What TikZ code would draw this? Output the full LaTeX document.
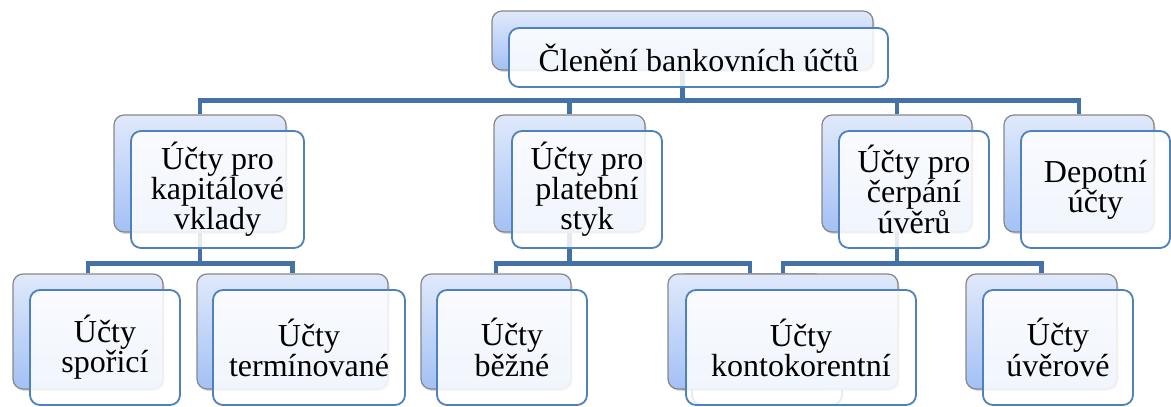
\documentclass[tikz,border=0pt]{standalone}
\usepackage{fontspec}
\setmainfont{Liberation Serif}
\usepackage{tikz}
\usetikzlibrary{shadows,backgrounds}
\definecolor{connblue}{RGB}{68,114,167}
\definecolor{frameblue}{RGB}{79,129,189}
\definecolor{shadetop}{RGB}{224,233,251}
\definecolor{shadebot}{RGB}{163,193,245}
\definecolor{backgray}{RGB}{135,135,135}
\tikzset{
  backbox/.style={draw=backgray, line width=1.2pt, rounded corners=10pt,
    top color=shadetop, bottom color=shadebot, inner sep=0pt,
    drop shadow={shadow xshift=1.5pt, shadow yshift=-2pt, opacity=0.3}},
  frontbox/.style={draw=frameblue, line width=1.8pt, rounded corners=10pt,
    fill=white, fill opacity=0.85, text opacity=1, align=center, inner sep=0pt,
    font=\rmfamily\fontsize{32}{28}\selectfont},
  conn/.style={draw=connblue, line width=4.5pt}
}

\begin{document}
\begin{tikzpicture}[x=1pt,y=-1pt]
        \useasboundingbox (0,0) rectangle (1171,407);
        % top
        \node[backbox, minimum width=381pt, minimum height=59pt] (root-b) at (682.5,40.5) {};
        \node[frontbox, minimum width=379pt, minimum height=59pt] (root) at (698.5,57.5) {Členění bankovních účtů};
        % second row
        \node[backbox, minimum width=172pt, minimum height=117pt] (kap-b) at (200,173.5) {};
        \node[frontbox, minimum width=173pt, minimum height=117pt] (kap) at (217.5,189.5) {Účty pro\\kapitálové\\vklady};
        \node[backbox, minimum width=151pt, minimum height=117pt] (pla-b) at (569.5,173.5) {};
        \node[frontbox, minimum width=150pt, minimum height=117pt] (pla) at (587,189.5) {Účty pro\\platební\\styk};
        \node[backbox, minimum width=150pt, minimum height=117pt] (cer-b) at (897,173.5) {};
        \node[frontbox, minimum width=150pt, minimum height=117pt] (cer) at (914,189.5) {Účty pro\\čerpání\\úvěrů};
        \node[backbox, minimum width=150pt, minimum height=117pt] (dep-b) at (1079,173.5) {};
        \node[frontbox, minimum width=149pt, minimum height=117pt] (dep) at (1095.5,189.5) {Depotní\\účty};
        % third row
        \node[backbox, minimum width=150pt, minimum height=115pt] (spo-b) at (88,331.5) {};
        \node[frontbox, minimum width=150pt, minimum height=115pt] (spo) at (105,347.5) {Účty\\spořicí};
        \node[backbox, minimum width=191pt, minimum height=115pt] (ter-b) at (292.5,331.5) {};
        \node[frontbox, minimum width=192pt, minimum height=115pt] (ter) at (309,347.5) {Účty\\termínované};
        \node[backbox, minimum width=150pt, minimum height=115pt] (bez-b) at (496,331.5) {};
        \node[frontbox, minimum width=150pt, minimum height=115pt] (bez) at (512,347.5) {Účty\\běžné};
        \node[backbox, minimum width=150pt, minimum height=115pt] (hid-b) at (750,331.5) {};
        \node[frontbox, minimum width=150pt, minimum height=115pt] (hid) at (767,347.5) {};
        \node[backbox, minimum width=230pt, minimum height=115pt] (kon-b) at (783,331.5) {};
        \node[frontbox, minimum width=230pt, minimum height=115pt] (kon) at (801,347.5) {Účty\\kontokorentní};
        \node[backbox, minimum width=151pt, minimum height=115pt] (uve-b) at (1041.5,331.5) {};
        \node[frontbox, minimum width=150pt, minimum height=115pt] (uve) at (1058,347.5) {Účty\\úvěrové};

        \begin{scope}[on background layer]
        \foreach \kid in {kap,pla,cer,dep}
        \draw[conn] (root-b.south) -- ++(0,30) -| (\kid-b.north);
        \foreach \kid in {spo,ter}
        \draw[conn] (kap-b.south) -- ++(0,31) -| (\kid-b.north);
        \foreach \kid in {bez,hid}
        \draw[conn] (pla-b.south) -- ++(0,31) -| (\kid-b.north);
        \foreach \kid in {kon,uve}
        \draw[conn] (cer-b.south) -- ++(0,31) -| (\kid-b.north);
        \end{scope}
\end{tikzpicture}
\end{document}
